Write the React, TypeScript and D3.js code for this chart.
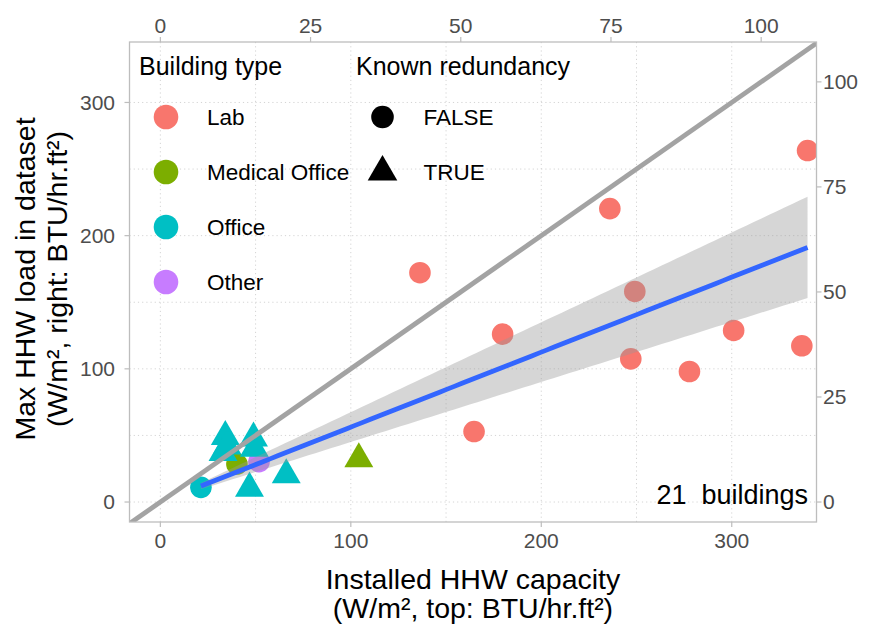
import React from "react";
import * as d3 from "d3";

// ---- data (W/m²) ----
const labX = [136.3, 236, 339.8, 179.7, 249.1, 247, 301, 277.8, 336.8, 164.7];
const labY = [172.2, 220.3, 263.9, 126.1, 158.1, 107.5, 128.8, 98, 117.3, 52.9];

const officeCircX = [21.3];
const officeCircY = [11];
const medCircX = [40.2];
const medCircY = [28.5];
const otherCircX = [51.8];
const otherCircY = [30.3];
const medTriX = [104.2];
const medTriY = [32.3];
const officeTriX = [34.1, 32.9, 48.9, 49.3, 46.8, 66.1, 35];
const officeTriY = [49.1, 37.1, 47.9, 40.3, 10.3, 20.3, 42];

const buildingTypes = ["Lab", "Medical Office", "Office", "Other"];
const typeColors = ["#F8766D", "#7CAE00", "#00BFC4", "#C77CFF"];
const redundancyLevels = ["FALSE", "TRUE"];

const bottomTicks = [0, 100, 200, 300];
const leftTicks = [0, 100, 200, 300];
const topTicks = [0, 25, 50, 75, 100];
const rightTicks = [0, 25, 50, 75, 100];
const gridVals = [0, 50, 100, 150, 200, 250, 300];

const BTU_TO_W = 3.1546; // 1 BTU/hr.ft² in W/m²
const T975_DF20 = 2.085963;

type Pt = { x: number; y: number; type: string; red: string };
const points: Pt[] = [];
const add = (xs: number[], ys: number[], type: string, red: string) =>
  xs.forEach((x, i) => points.push({ x, y: ys[i], type, red }));
add(labX, labY, "Lab", "FALSE");
add(officeCircX, officeCircY, "Office", "FALSE");
add(medCircX, medCircY, "Medical Office", "FALSE");
add(otherCircX, otherCircY, "Other", "FALSE");
add(medTriX, medTriY, "Medical Office", "TRUE");
add(officeTriX, officeTriY, "Office", "TRUE");

const FONT = "'Liberation Sans', Arial, Helvetica, sans-serif";

export default function App() {
  const W = 870, H = 625;
  const L = 129.5, R = 816.5, T = 42, B = 522;
  const x = d3.scaleLinear().domain([-16.2, 344.5]).range([L, R]);
  const y = d3.scaleLinear().domain([-15.0, 345.4]).range([B, T]);
  const color = d3.scaleOrdinal<string, string>().domain(buildingTypes).range(typeColors);

  // regression through the origin with 95% CI
  const n = points.length;
  const sxx = d3.sum(points, (p) => p.x * p.x);
  const sxy = d3.sum(points, (p) => p.x * p.y);
  const b = sxy / sxx;
  const rss = d3.sum(points, (p) => (p.y - b * p.x) ** 2);
  const s = Math.sqrt(rss / (n - 1));
  const [xmin, xmax] = d3.extent(points, (p) => p.x) as [number, number];
  const xs = d3.range(0, 80).map((i) => xmin + ((xmax - xmin) * i) / 79);
  const band = xs.map((xv) => {
    const fit = b * xv;
    const hw = (T975_DF20 * s * Math.abs(xv)) / Math.sqrt(sxx);
    return { x: xv, fit, lo: fit - hw, hi: fit + hw };
  });
  const area = d3
    .area<{ x: number; lo: number; hi: number }>()
    .x((d) => x(d.x))
    .y0((d) => y(d.lo))
    .y1((d) => y(d.hi));
  const line = d3
    .line<{ x: number; fit: number }>()
    .x((d) => x(d.x))
    .y((d) => y(d.fit));

  const tri = (cx: number, cy: number, r: number) => {
    const xc = (r * Math.sqrt(3)) / 2;
    return `M${cx},${cy - r}L${cx + xc},${cy + r / 2}L${cx - xc},${cy + r / 2}Z`;
  };
  const TRI_R = 16.7;
  const CIRC_R = 10.8;
  const gridColor = "#D4D4D4";
  const axisColor = "#BDBDBD";
  const tickTextColor = "#4D4D4D";
  const cx = (L + R) / 2;

  return (
    <svg width={W} height={H} style={{ display: "block", position: "absolute", left: 0, top: 0 }} fontFamily={FONT}>
      <defs>
        <clipPath id="panel">
          <rect x={L} y={T} width={R - L} height={B - T} />
        </clipPath>
      </defs>
      <rect x={0} y={0} width={W} height={H} fill="white" />
      {/* grid */}
      <g stroke={gridColor} strokeWidth={1} strokeDasharray="1.2 3">
        {gridVals.map((v) => (
          <line key={"gx" + v} x1={x(v)} x2={x(v)} y1={T} y2={B} />
        ))}
        {gridVals.map((v) => (
          <line key={"gy" + v} x1={L} x2={R} y1={y(v)} y2={y(v)} />
        ))}
      </g>
      <g clipPath="url(#panel)">
        {points.map((p, i) =>
          p.red === "FALSE" ? (
            <circle key={i} cx={x(p.x)} cy={y(p.y)} r={CIRC_R} fill={color(p.type)} />
          ) : (
            <path key={i} d={tri(x(p.x), y(p.y), TRI_R)} fill={color(p.type)} />
          )
        )}
        <line
          x1={x(-20)}
          y1={y(-20)}
          x2={x(360)}
          y2={y(360)}
          stroke="#A3A3A3"
          strokeWidth={4.8}
        />
        <path d={area(band) || ""} fill="#999999" fillOpacity={0.4} />
        <path d={line(band) || ""} fill="none" stroke="#3366FF" strokeWidth={4.8} />
      </g>
      {/* panel border */}
      <rect x={L} y={T} width={R - L} height={B - T} fill="none" stroke={axisColor} strokeWidth={1.3} />
      {/* bottom axis */}
      {bottomTicks.map((v) => (
        <g key={"b" + v}>
          <line x1={x(v)} x2={x(v)} y1={B} y2={B + 5} stroke={axisColor} strokeWidth={1.2} />
          <text x={x(v)} y={548} textAnchor="middle" fontSize={21} fill={tickTextColor}>
            {v}
          </text>
        </g>
      ))}
      {/* top axis (BTU/hr.ft²) */}
      {topTicks.map((v) => (
        <g key={"t" + v}>
          <line x1={x(v * BTU_TO_W)} x2={x(v * BTU_TO_W)} y1={T} y2={T - 5} stroke={axisColor} strokeWidth={1.2} />
          <text x={x(v * BTU_TO_W)} y={33} textAnchor="middle" fontSize={21} fill={tickTextColor}>
            {v}
          </text>
        </g>
      ))}
      {/* left axis */}
      {leftTicks.map((v) => (
        <g key={"l" + v}>
          <line x1={L} x2={L - 5} y1={y(v)} y2={y(v)} stroke={axisColor} strokeWidth={1.2} />
          <text x={115} y={y(v)} dy="0.35em" textAnchor="end" fontSize={21} fill={tickTextColor}>
            {v}
          </text>
        </g>
      ))}
      {/* right axis (BTU/hr.ft²) */}
      {rightTicks.map((v) => (
        <g key={"r" + v}>
          <line x1={R} x2={R + 5} y1={y(v * BTU_TO_W)} y2={y(v * BTU_TO_W)} stroke={axisColor} strokeWidth={1.2} />
          <text x={823} y={y(v * BTU_TO_W)} dy="0.35em" textAnchor="start" fontSize={21} fill={tickTextColor}>
            {v}
          </text>
        </g>
      ))}
      {/* axis titles */}
      <text textAnchor="middle" fontSize={28.5} fill="black">
        <tspan x={cx} y={589}>Installed HHW capacity</tspan>
        <tspan x={cx} y={618}>(W/m², top: BTU/hr.ft²)</tspan>
      </text>
      <g transform={`translate(0, ${(T + B) / 2 - 3}) rotate(-90)`}>
        <text textAnchor="middle" fontSize={28.5} fill="black">
          <tspan x={0} y={35}>Max HHW load in dataset</tspan>
          <tspan x={0} y={67}>(W/m², right: BTU/hr.ft²)</tspan>
        </text>
      </g>
      {/* legend: building type */}
      <text x={139} y={74.5} fontSize={25} fill="black">
        Building type
      </text>
      {buildingTypes.map((t, i) => (
        <g key={t}>
          <circle cx={166} cy={117 + i * 55} r={12.3} fill={color(t)} />
          <text x={207} y={117 + i * 55} dy="0.36em" fontSize={22.5} fill="black">
            {t}
          </text>
        </g>
      ))}
      {/* legend: redundancy */}
      <text x={356} y={74.5} fontSize={25} fill="black">
        Known redundancy
      </text>
      {redundancyLevels.map((r, i) => (
        <g key={r}>
          {r === "FALSE" ? (
            <circle cx={382.5} cy={117} r={11.3} fill="black" />
          ) : (
            <path d={tri(382.5, 172, 17.1)} fill="black" />
          )}
          <text x={423.5} y={117 + i * 55} dy="0.36em" fontSize={22.5} fill="black">
            {r}
          </text>
        </g>
      ))}
      {/* annotation */}
      <text x={808} y={504} textAnchor="end" fontSize={27} fill="black" style={{ whiteSpace: "pre" }}>
        {`${n}  buildings`}
      </text>
    </svg>
  );
}
